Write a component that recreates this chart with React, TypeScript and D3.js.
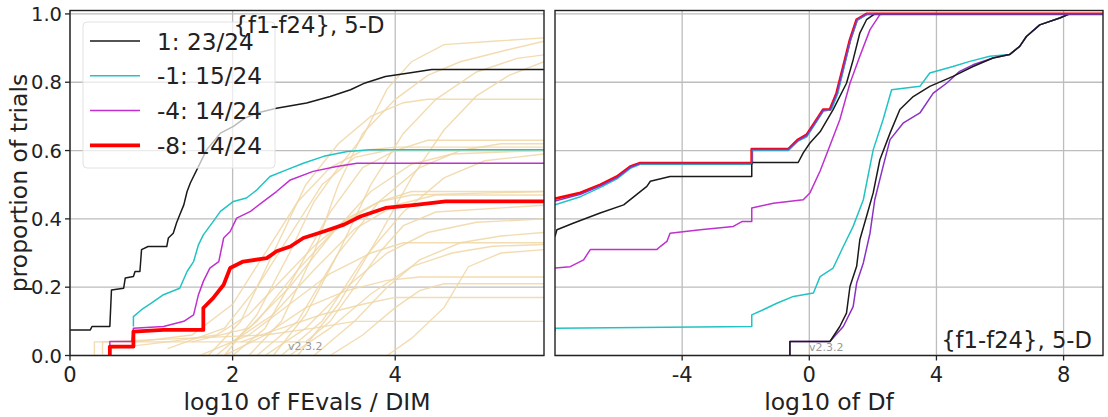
import React, { useEffect, useRef } from "react";
import * as d3 from "d3";

type Pt = [number, number];

// axis ticks
const leftTicksX = [0, 2, 4];
const rightTicksX = [-4, 0, 4, 8];
const ticksY = [0, 0.2, 0.4, 0.6, 0.8, 1.0];

const legendLabels = ["1: 23/24", "-1: 15/24", "-4: 14/24", "-8: 14/24"];
const title = "{f1-f24}, 5-D";

// left panel: ECDF of run lengths (log10 of FEvals / DIM, proportion)
const rtBlack: Pt[] = [
  [0, 0.075], [0.25, 0.075], [0.27, 0.085], [0.49, 0.085], [0.51, 0.192], [0.66, 0.197],
  [0.68, 0.227], [0.78, 0.231], [0.8, 0.246], [0.86, 0.246], [0.88, 0.31], [0.96, 0.319],
  [1.19, 0.319], [1.21, 0.344], [1.27, 0.358], [1.31, 0.388], [1.35, 0.412], [1.4, 0.441],
  [1.44, 0.48], [1.48, 0.505], [1.6, 0.563], [1.68, 0.602], [1.85, 0.651], [2.01, 0.671],
  [2.15, 0.695], [2.3, 0.71], [2.54, 0.724], [2.91, 0.739], [3.2, 0.758], [3.45, 0.778],
  [3.63, 0.798], [3.88, 0.817], [4.17, 0.827], [4.45, 0.837], [5.83, 0.837],
];
const rtCyan: Pt[] = [
  [0.78, 0.085], [0.78, 0.114], [0.88, 0.134], [1.0, 0.153], [1.15, 0.178], [1.35, 0.197],
  [1.44, 0.246], [1.52, 0.275], [1.58, 0.324], [1.64, 0.353], [1.76, 0.392], [1.85, 0.422],
  [2.01, 0.451], [2.17, 0.461], [2.3, 0.485], [2.46, 0.524], [2.67, 0.544], [2.87, 0.563],
  [3.12, 0.583], [3.41, 0.597], [3.69, 0.602], [5.83, 0.602],
];
const rtMagenta: Pt[] = [
  [0.49, 0.0], [0.49, 0.041], [0.76, 0.041], [0.78, 0.08], [1.15, 0.085], [1.4, 0.1],
  [1.52, 0.119], [1.58, 0.178], [1.64, 0.217], [1.72, 0.256], [1.83, 0.275], [1.89, 0.344],
  [1.97, 0.363], [2.05, 0.402], [2.22, 0.422], [2.38, 0.451], [2.54, 0.48], [2.71, 0.514],
  [2.99, 0.539], [3.28, 0.553], [3.53, 0.563], [5.83, 0.563],
];
const rtRed: Pt[] = [
  [0.49, 0.0], [0.49, 0.026], [0.78, 0.026], [0.78, 0.07], [1.15, 0.075], [1.64, 0.075],
  [1.64, 0.139], [1.76, 0.168], [1.89, 0.207], [1.97, 0.256], [2.13, 0.275], [2.42, 0.285],
  [2.54, 0.305], [2.71, 0.319], [2.87, 0.344], [3.12, 0.363], [3.37, 0.383], [3.57, 0.407],
  [3.88, 0.432], [4.25, 0.441], [4.62, 0.451], [5.83, 0.451],
];

// left panel: single-function ECDFs (light background curves)
const fnCurves: Pt[][] = [
  [[1.9, 0], [2.3, 0.12], [2.7, 0.3], [3.0, 0.45], [3.3, 0.55], [3.6, 0.64], [3.9, 0.78], [4.2, 0.86], [4.6, 0.91], [5.2, 0.92], [5.83, 0.93]],
  [[2.2, 0], [2.6, 0.1], [3.0, 0.3], [3.3, 0.5], [3.6, 0.65], [4.0, 0.75], [4.4, 0.82], [4.8, 0.86], [5.3, 0.89], [5.83, 0.92]],
  [[2.5, 0], [2.9, 0.12], [3.3, 0.3], [3.7, 0.5], [4.1, 0.65], [4.5, 0.75], [5.0, 0.83], [5.5, 0.87], [5.83, 0.88]],
  [[2.8, 0], [3.3, 0.15], [3.8, 0.35], [4.2, 0.52], [4.6, 0.66], [5.0, 0.76], [5.4, 0.82], [5.83, 0.86]],
  [[1.7, 0], [2.1, 0.1], [2.5, 0.3], [2.9, 0.5], [3.3, 0.62], [3.7, 0.7], [4.1, 0.74], [4.4, 0.75], [5.83, 0.75]],
  [[2.0, 0], [2.4, 0.08], [2.8, 0.25], [3.2, 0.42], [3.6, 0.55], [4.0, 0.6], [4.4, 0.63], [5.83, 0.63]],
  [[2.3, 0], [2.8, 0.1], [3.3, 0.3], [3.8, 0.45], [4.3, 0.55], [4.8, 0.6], [5.3, 0.62], [5.83, 0.62]],
  [[1.5, 0.04], [2.2, 0.08], [2.7, 0.2], [3.2, 0.35], [3.7, 0.48], [4.2, 0.56], [4.7, 0.59], [5.83, 0.6]],
  [[2.6, 0], [3.1, 0.1], [3.6, 0.28], [4.1, 0.42], [4.6, 0.52], [5.1, 0.57], [5.83, 0.59]],
  [[1.8, 0], [2.3, 0.1], [2.8, 0.25], [3.3, 0.38], [3.8, 0.45], [4.2, 0.48], [5.83, 0.48]],
  [[2.0, 0.04], [2.5, 0.12], [3.0, 0.25], [3.5, 0.37], [4.0, 0.44], [4.5, 0.47], [5.83, 0.47]],
  [[2.4, 0], [2.9, 0.08], [3.4, 0.2], [3.9, 0.3], [4.4, 0.36], [5.0, 0.39], [5.83, 0.4]],
  [[3.0, 0], [3.5, 0.1], [3.9, 0.2], [4.3, 0.28], [4.8, 0.33], [5.3, 0.35], [5.83, 0.36]],
  [[1.6, 0], [2.2, 0.06], [2.7, 0.15], [3.2, 0.24], [3.7, 0.3], [4.1, 0.33], [5.83, 0.33]],
  [[2.7, 0], [3.2, 0.08], [3.7, 0.18], [4.2, 0.26], [4.7, 0.3], [5.2, 0.32], [5.83, 0.325]],
  [[1.9, 0], [2.4, 0.06], [2.9, 0.14], [3.4, 0.19], [3.9, 0.22], [4.3, 0.23], [5.83, 0.23]],
  [[3.2, 0], [3.6, 0.06], [4.0, 0.14], [4.3, 0.19], [4.6, 0.21], [5.83, 0.21]],
  [[2.1, 0.04], [2.6, 0.08], [3.1, 0.12], [3.6, 0.15], [4.0, 0.17], [5.83, 0.17]],
  [[0.4, 0.0], [0.4, 0.04], [2.4, 0.06], [3.0, 0.08], [3.5, 0.1], [5.83, 0.1]],
  [[0.3, 0.0], [0.3, 0.04], [2.9, 0.04], [3.2, 0.1], [3.5, 0.2], [3.8, 0.3], [4.1, 0.38], [4.5, 0.42], [5.83, 0.44]],
  [[3.9, 0], [4.2, 0.05], [4.6, 0.14], [4.9, 0.26], [5.3, 0.3], [5.83, 0.31]],
  [[0.5, 0.02], [1.2, 0.04], [1.8, 0.06], [2.2, 0.12], [2.6, 0.22], [3.0, 0.32], [3.4, 0.4], [3.8, 0.45], [4.2, 0.47], [5.83, 0.48]],
  [[0.8, 0.04], [1.5, 0.06], [2.0, 0.15], [2.4, 0.3], [2.8, 0.45], [3.2, 0.55], [3.6, 0.6], [4.0, 0.61], [5.83, 0.61]],
  [[1.2, 0.02], [1.9, 0.08], [2.3, 0.2], [2.7, 0.35], [3.1, 0.5], [3.5, 0.58], [3.9, 0.6], [5.83, 0.6]],
];

// right panel: ECDF of final log10 Df
const dfRedA: Pt[] = [
  [-8, 0.459], [-7.2, 0.476], [-6.57, 0.5], [-6.05, 0.524], [-5.63, 0.553], [-5.32, 0.563],
  [-1.81, 0.563], [-1.81, 0.604], [-0.66, 0.604], [-0.35, 0.632], [-0.08, 0.646], [0.23, 0.69],
  [0.44, 0.72], [0.65, 0.72], [0.86, 0.768], [1.07, 0.846], [1.28, 0.924], [1.49, 0.983],
  [1.8, 1.0], [9.24, 1.0],
];
const dfCyanA: Pt[] = [
  [-8, 0.441], [-7.2, 0.465], [-6.57, 0.492], [-6.05, 0.517], [-5.63, 0.548], [-5.32, 0.56],
  [-1.81, 0.56], [-1.81, 0.6], [-0.66, 0.6], [-0.35, 0.628], [-0.08, 0.64], [0.23, 0.685],
  [0.44, 0.715], [0.7, 0.72], [0.9, 0.768], [1.1, 0.846], [1.3, 0.924], [1.52, 0.983],
  [1.85, 1.0], [9.24, 1.0],
];
const dfPurpleA: Pt[] = [
  [-8, 0.452], [-7.2, 0.472], [-6.57, 0.497], [-6.05, 0.521], [-5.63, 0.551], [-5.32, 0.562],
  [-1.81, 0.562], [-1.81, 0.603], [-0.66, 0.603], [-0.35, 0.63], [-0.08, 0.644], [0.23, 0.688],
  [0.44, 0.718], [0.66, 0.72], [0.87, 0.768], [1.08, 0.846], [1.29, 0.924], [1.5, 0.983],
  [1.82, 1.0], [9.24, 1.0],
];
const dfBlackA: Pt[] = [
  [-8, 0.348], [-7.94, 0.368], [-7.41, 0.388], [-6.58, 0.417], [-5.84, 0.441], [-5.11, 0.495],
  [-5.0, 0.51], [-4.38, 0.524], [-1.81, 0.524], [-1.81, 0.565], [-0.35, 0.565], [-0.19, 0.593],
  [0.02, 0.622], [0.34, 0.655], [0.75, 0.72], [1.17, 0.797], [1.38, 0.866], [1.59, 0.944],
  [1.8, 0.983], [2.06, 1.0], [9.24, 1.0],
];
const dfMagentaB: Pt[] = [
  [-8, 0.256], [-7.52, 0.26], [-7.1, 0.28], [-6.89, 0.31], [-4.8, 0.31], [-4.69, 0.319],
  [-4.48, 0.334], [-4.38, 0.358], [-3.43, 0.368], [-2.39, 0.378], [-2.12, 0.392], [-1.81, 0.392],
  [-1.81, 0.432], [-1.13, 0.446], [-0.19, 0.456], [0.02, 0.476], [0.34, 0.54], [0.65, 0.615],
  [0.96, 0.69], [1.28, 0.797], [1.59, 0.876], [1.91, 0.954], [2.22, 0.998], [2.4, 1.0], [9.24, 1.0],
];
const dfCyanC: Pt[] = [
  [-8, 0.07], [-8, 0.08], [-1.81, 0.085], [-1.81, 0.119], [-1.45, 0.134], [-1.02, 0.153],
  [-0.5, 0.173], [0.13, 0.183], [0.34, 0.231], [0.75, 0.256], [1.07, 0.319], [1.38, 0.378],
  [1.7, 0.456], [2.01, 0.602], [2.32, 0.69], [2.59, 0.778], [3.48, 0.788], [3.79, 0.827],
  [4.52, 0.846], [5.05, 0.861], [5.68, 0.876], [6.3, 0.881], [6.62, 0.905], [6.83, 0.934],
  [7.25, 0.968], [7.88, 0.988], [8.19, 1.0], [9.24, 1.0],
];
const dfBlackD: Pt[] = [
  [-0.61, 0], [-0.61, 0.041], [0.65, 0.041], [0.96, 0.085], [1.17, 0.124], [1.28, 0.202],
  [1.49, 0.261], [1.59, 0.339], [1.8, 0.407], [2.01, 0.476], [2.22, 0.573], [2.54, 0.651],
  [2.85, 0.72], [3.27, 0.758], [3.79, 0.788], [4.52, 0.817], [5.15, 0.846], [5.78, 0.871],
  [6.3, 0.881], [6.62, 0.905], [6.83, 0.934], [7.25, 0.968], [7.88, 0.988], [8.19, 1.0], [9.24, 1.0],
];
const dfPurpleD: Pt[] = [
  [-0.61, 0], [-0.61, 0.041], [0.65, 0.041], [1.07, 0.085], [1.38, 0.143], [1.49, 0.212],
  [1.7, 0.271], [1.91, 0.358], [2.06, 0.456], [2.32, 0.553], [2.54, 0.632], [2.95, 0.68],
  [3.48, 0.71], [3.9, 0.768], [4.32, 0.797], [4.73, 0.832], [5.15, 0.851], [5.78, 0.871],
  [6.3, 0.881], [6.62, 0.905], [6.83, 0.934], [7.25, 0.968], [7.88, 0.988], [8.19, 1.0], [9.24, 1.0],
];

const W = 1108;
const H = 417;
const FONT = "DejaVu Sans, sans-serif";
const BLACK = "#1a1a1a";
const CYAN = "#22c3c3";
const MAGENTA = "#c030d0";
const RED = "#ff0000";
const PURPLE = "#8a32c4";
const BEIGE = "#f0d6a4";

const App: React.FC = () => {
  const svgRef = useRef<SVGSVGElement | null>(null);

  useEffect(() => {
    const svg = d3.select(svgRef.current);
    svg.selectAll("*").remove();

    const top = 10.5;
    const bottom = 355.5;
    const y = d3.scaleLinear().domain([0, 1.01]).range([bottom, top]);
    const xL = d3.scaleLinear().domain([0, 5.83]).range([70, 544]);
    const xR = d3.scaleLinear().domain([-8, 9.24]).range([555, 1103]);

    const defs = svg.append("defs");
    [["clipL", xL], ["clipR", xR]].forEach(([id, x]: any) => {
      defs
        .append("clipPath")
        .attr("id", id)
        .append("rect")
        .attr("x", x.range()[0])
        .attr("y", top)
        .attr("width", x.range()[1] - x.range()[0])
        .attr("height", bottom - top);
    });

    const panel = (x: d3.ScaleLinear<number, number>, ticksX: number[], clip: string) => {
      const g = svg.append("g");
      const [x0, x1] = x.range();
      // grid
      const grid = g.append("g").attr("stroke", "#bdbdbd").attr("stroke-width", 1.3);
      ticksY.forEach((t) => {
        grid.append("line").attr("x1", x0).attr("x2", x1).attr("y1", y(t)).attr("y2", y(t));
      });
      ticksX.forEach((t) => {
        grid.append("line").attr("x1", x(t)).attr("x2", x(t)).attr("y1", top).attr("y2", bottom);
      });
      const plot = g.append("g").attr("clip-path", `url(#${clip})`);
      return { g, plot, x0, x1 };
    };

    const line = (x: d3.ScaleLinear<number, number>) =>
      d3
        .line<Pt>()
        .x((d) => x(d[0]))
        .y((d) => y(d[1]));

    const frame = (g: any, x: d3.ScaleLinear<number, number>, ticksX: number[], tickLabels: string[]) => {
      const [x0, x1] = x.range();
      g.append("rect")
        .attr("x", x0)
        .attr("y", top)
        .attr("width", x1 - x0)
        .attr("height", bottom - top)
        .attr("fill", "none")
        .attr("stroke", "#222")
        .attr("stroke-width", 1.4);
      ticksX.forEach((t, i) => {
        g.append("line")
          .attr("x1", x(t))
          .attr("x2", x(t))
          .attr("y1", bottom)
          .attr("y2", bottom + 5)
          .attr("stroke", "#222")
          .attr("stroke-width", 1.3);
        g.append("text")
          .attr("x", x(t))
          .attr("y", 382)
          .attr("text-anchor", "middle")
          .attr("font-family", FONT)
          .attr("font-size", 21)
          .attr("fill", "#222")
          .text(tickLabels[i]);
      });
    };

    // ---------- left panel ----------
    const L = panel(xL, leftTicksX, "clipL");

    // legend box (under the curves)
    L.g.append("rect")
      .attr("x", 83)
      .attr("y", 22)
      .attr("width", 192)
      .attr("height", 146)
      .attr("rx", 4)
      .attr("fill", "#fff")
      .attr("fill-opacity", 0.7)
      .attr("stroke", "#e2e2e2")
      .attr("stroke-width", 1);

    const lineL = line(xL);
    fnCurves.forEach((c) => {
      L.plot
        .append("path")
        .attr("d", lineL(c)!)
        .attr("fill", "none")
        .attr("stroke", BEIGE)
        .attr("stroke-opacity", 0.85)
        .attr("stroke-width", 1.4);
    });

    const mainL: [Pt[], string, number][] = [
      [rtBlack, BLACK, 1.5],
      [rtCyan, CYAN, 1.5],
      [rtMagenta, MAGENTA, 1.5],
      [rtRed, RED, 3.8],
    ];
    mainL.forEach(([data, color, w]) => {
      L.plot
        .append("path")
        .attr("d", lineL(data)!)
        .attr("fill", "none")
        .attr("stroke", color)
        .attr("stroke-width", w)
        .attr("stroke-linejoin", "round");
    });

    // legend entries
    mainL.forEach(([, color, w], i) => {
      const ly = 41 + i * 34.8;
      L.g.append("line")
        .attr("x1", 90)
        .attr("x2", 140)
        .attr("y1", ly)
        .attr("y2", ly)
        .attr("stroke", color)
        .attr("stroke-width", w);
      L.g.append("text")
        .attr("x", 157)
        .attr("y", ly + 8.5)
        .attr("font-family", FONT)
        .attr("font-size", 23.2)
        .attr("fill", "#222")
        .text(legendLabels[i]);
    });

    L.g.append("text")
      .attr("x", 309)
      .attr("y", 33)
      .attr("text-anchor", "middle")
      .attr("font-family", FONT)
      .attr("font-size", 22.7)
      .attr("fill", "#222")
      .text(title);

    L.g.append("text")
      .attr("x", 288)
      .attr("y", 350)
      .attr("font-family", FONT)
      .attr("font-size", 11)
      .attr("fill", "#999")
      .text("v2.3.2");

    frame(L.g, xL, leftTicksX, leftTicksX.map(String));

    // y axis ticks and labels
    ticksY.forEach((t) => {
      L.g.append("line")
        .attr("x1", 65)
        .attr("x2", 70)
        .attr("y1", y(t))
        .attr("y2", y(t))
        .attr("stroke", "#222")
        .attr("stroke-width", 1.3);
      L.g.append("text")
        .attr("x", 62)
        .attr("y", y(t))
        .attr("dy", "0.36em")
        .attr("text-anchor", "end")
        .attr("font-family", FONT)
        .attr("font-size", 19.5)
        .attr("fill", "#222")
        .text(t.toFixed(1));
    });

    L.g.append("text")
      .attr("transform", `translate(27, ${(top + bottom) / 2}) rotate(-90)`)
      .attr("text-anchor", "middle")
      .attr("font-family", FONT)
      .attr("font-size", 23.5)
      .attr("fill", "#222")
      .text("proportion of trials");

    L.g.append("text")
      .attr("x", 307)
      .attr("y", 410)
      .attr("text-anchor", "middle")
      .attr("font-family", FONT)
      .attr("font-size", 23.5)
      .attr("fill", "#222")
      .text("log10 of FEvals / DIM");

    // ---------- right panel ----------
    const R = panel(xR, rightTicksX, "clipR");
    const lineR = line(xR);
    const mainR: [Pt[], string, number][] = [
      [dfCyanC, CYAN, 1.5],
      [dfPurpleD, PURPLE, 1.5],
      [dfBlackD, BLACK, 1.5],
      [dfMagentaB, MAGENTA, 1.5],
      [dfRedA, RED, 2.8],
      [dfCyanA, CYAN, 1.5],
      [dfBlackA, BLACK, 1.5],
      [dfPurpleA, PURPLE, 1.5],
    ];
    mainR.forEach(([data, color, w]) => {
      R.plot
        .append("path")
        .attr("d", lineR(data)!)
        .attr("fill", "none")
        .attr("stroke", color)
        .attr("stroke-width", w)
        .attr("stroke-linejoin", "round");
    });

    R.g.append("text")
      .attr("x", 809)
      .attr("y", 351)
      .attr("font-family", FONT)
      .attr("font-size", 11)
      .attr("fill", "#999")
      .text("v2.3.2");

    R.g.append("text")
      .attr("x", 1092)
      .attr("y", 348)
      .attr("text-anchor", "end")
      .attr("font-family", FONT)
      .attr("font-size", 22.7)
      .attr("fill", "#222")
      .text(title);

    frame(R.g, xR, rightTicksX, rightTicksX.map(String));

    R.g.append("text")
      .attr("x", 829)
      .attr("y", 410)
      .attr("text-anchor", "middle")
      .attr("font-family", FONT)
      .attr("font-size", 23.5)
      .attr("fill", "#222")
      .text("log10 of Df");
  }, []);

  return (
    <svg
      ref={svgRef}
      width={W}
      height={H}
      style={{ position: "absolute", left: 0, top: 0, background: "#fff" }}
    ></svg>
  );
};

export default App;
